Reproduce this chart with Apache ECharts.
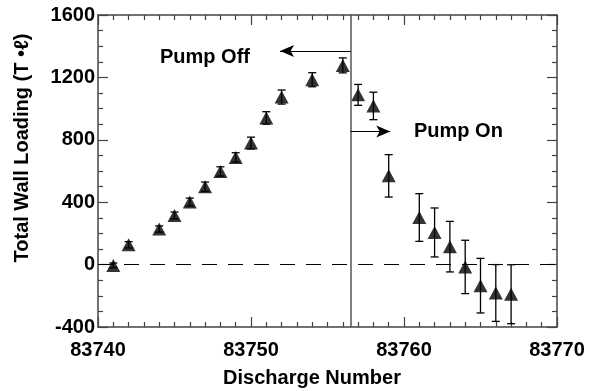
<!DOCTYPE html>
<html>
<head>
<meta charset="utf-8">
<script src="https://cdn.jsdelivr.net/npm/echarts@6/dist/echarts.min.js"></script>
<style>
  html, body { margin: 0; padding: 0; background: #fff; }
  #chart { width: 590px; height: 391px; }
</style>
</head>
<body>
<div id="chart"></div>
<script>
  // discharge numbers, wall loading and error half-widths
  const shots = [83741, 83742, 83744, 83745, 83746, 83747, 83748, 83749, 83750, 83751, 83752, 83754, 83756,
    83757, 83758, 83759, 83761, 83762, 83763, 83764, 83765, 83766, 83767]
  const loading = [-5, 127, 228, 315, 401, 499, 597, 687, 779, 940, 1074, 1185, 1277,
    1088, 1017, 569, 302, 206, 115, -15, -135, -182, -190]
  const errs = [15, 20, 20, 22, 25, 30, 30, 30, 38, 40, 45, 45, 48,
    67, 88, 136, 153, 157, 162, 171, 175, 182, 189]
  const pumpSwitch = 83756.5

  const font = '"Liberation Sans", Arial, sans-serif'
  const axisCol = '#444'

  const chart = echarts.init(document.getElementById('chart'))

  const pts = shots.map((s, i) => [s, loading[i]])
  const bars = shots.map((s, i) => [s, loading[i] - errs[i], loading[i] + errs[i]])

  const baseX = {
    type: 'value',
    min: 83740,
    max: 83770,
    interval: 10,
    axisLine: { onZero: false, lineStyle: { color: axisCol, width: 1.5 } },
    axisTick: { inside: true, length: 10, lineStyle: { color: axisCol, width: 1.2 } },
    minorTick: { show: true, splitNumber: 10, length: 5, lineStyle: { color: axisCol, width: 1.2 } },
    splitLine: { show: false }
  }
  const baseY = {
    type: 'value',
    min: -400,
    max: 1600,
    interval: 400,
    axisLine: { show: true, onZero: false, lineStyle: { color: axisCol, width: 1.5 } },
    axisTick: { show: true, inside: true, length: 10, lineStyle: { color: axisCol, width: 1.2 } },
    minorTick: { show: true, splitNumber: 4, length: 5, lineStyle: { color: axisCol, width: 1.2 } },
    splitLine: { show: false }
  }

  const option = {
    animation: false,
    grid: { left: 98, right: 33, top: 15, bottom: 64 },
    xAxis: [
      Object.assign({}, baseX, {
        position: 'bottom',
        axisLabel: { margin: 13, fontFamily: font, fontWeight: 'bold', fontSize: 20, color: '#000',
          formatter: v => String(v) }
      }),
      Object.assign({}, baseX, { position: 'top', axisLabel: { show: false } })
    ],
    yAxis: [
      Object.assign({}, baseY, {
        position: 'left',
        axisLabel: { margin: 3, fontFamily: font, fontWeight: 'bold', fontSize: 20, color: '#000',
          formatter: v => String(v) }
      }),
      Object.assign({}, baseY, { position: 'right', axisLabel: { show: false } })
    ],
    graphic: [
      {
        type: 'text', x: 22, y: 148, rotation: Math.PI / 2,
        style: { text: 'Total Wall Loading (T •ℓ)', fontFamily: font, fontWeight: 'bold', fontSize: 20,
          fill: '#000', align: 'center', verticalAlign: 'middle' }
      },
      {
        type: 'text', x: 312, y: 378,
        style: { text: 'Discharge Number', fontFamily: font, fontWeight: 'bold', fontSize: 20,
          fill: '#000', align: 'center', verticalAlign: 'middle' }
      },
      {
        type: 'text', x: 160, y: 57,
        style: { text: 'Pump Off', fontFamily: font, fontWeight: 'bold', fontSize: 20, fill: '#000',
          verticalAlign: 'middle' }
      },
      {
        type: 'text', x: 414, y: 131,
        style: { text: 'Pump On', fontFamily: font, fontWeight: 'bold', fontSize: 20, fill: '#000',
          verticalAlign: 'middle' }
      }
    ],
    series: [
      {
        type: 'custom',
        data: bars,
        renderItem: (params, api) => {
          const lo = api.coord([api.value(0), api.value(1)])
          const hi = api.coord([api.value(0), api.value(2)])
          const cap = 4
          const st = { stroke: '#000', lineWidth: 1.3 }
          return {
            type: 'group',
            children: [
              { type: 'line', shape: { x1: lo[0], y1: lo[1], x2: hi[0], y2: hi[1] }, style: st },
              { type: 'line', shape: { x1: lo[0] - cap, y1: lo[1], x2: lo[0] + cap, y2: lo[1] }, style: st },
              { type: 'line', shape: { x1: hi[0] - cap, y1: hi[1], x2: hi[0] + cap, y2: hi[1] }, style: st }
            ]
          }
        },
        z: 2
      },
      {
        type: 'scatter',
        data: pts,
        symbol: 'triangle',
        symbolSize: [14, 13],
        itemStyle: { color: '#000' },
        z: 3,
        markLine: {
          silent: true,
          symbol: 'none',
          label: { show: false },
          data: [
            [{ coord: [83740, 0], lineStyle: { type: [15, 11], color: '#000', width: 1.2 } },
              { coord: [83770, 0] }],
            [{ coord: [pumpSwitch, -400], lineStyle: { type: 'solid', color: '#555', width: 1.5 } },
              { coord: [pumpSwitch, 1600] }],
            [{ coord: [pumpSwitch, 1370], symbol: 'none', lineStyle: { type: 'solid', color: '#000', width: 1.2 } },
              { coord: [83751.9, 1370], symbol: 'arrow', symbolSize: [9, 14] }],
            [{ coord: [pumpSwitch, 854], symbol: 'none', lineStyle: { type: 'solid', color: '#000', width: 1.2 } },
              { coord: [83759.1, 854], symbol: 'arrow', symbolSize: [9, 14] }]
          ]
        }
      }
    ]
  }

  chart.setOption(option)
</script>
</body>
</html>
